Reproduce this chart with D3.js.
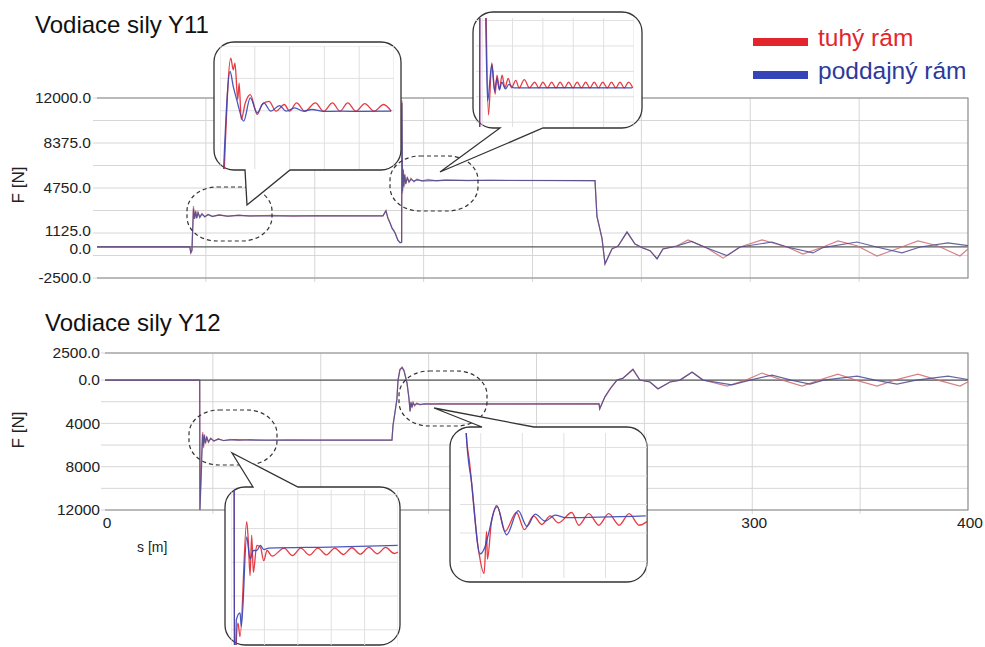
<!doctype html>
<html lang="sk">
<head>
<meta charset="utf-8">
<title>Vodiace sily</title>
<script src="https://d3js.org/d3.v7.min.js"></script>
<style>
  body { margin: 0; background: #fff; }
  svg { font-family: "Liberation Sans", Arial, sans-serif; }
  .grid { stroke: #d6d6d6; stroke-width: 1; }
  .frame { stroke: #8a8a8a; stroke-width: 1.2; fill: none; }
  .zero { stroke: #5a5a5a; stroke-width: 1.2; }
  .tick { font-size: 15.5px; fill: #222; }
  .title { font-size: 24px; fill: #111; }
  .bubble { fill: #fff; stroke: #333; stroke-width: 1.3; }
  .ring { fill: none; stroke: #333; stroke-width: 1.2; stroke-dasharray: 4 3; }
</style>
</head>
<body>
<div id="chart"></div>
<script>
// ---- data: [s (m), F (N)] ----
var series = ["tuhý rám", "poddajný rám"];

var y11Tuhy = [[0,0],[42.6,0],[43.1,-500],[43.6,-320],[44.3,3300],[44.8,2300],[45.3,2950],[45.8,2350],[46.4,2800],[47.2,2400],[48.2,2700],[49.5,2420],[51,2640],[53,2450],[56,2600],[60,2470],[65,2570],[70,2490],[80,2550],[90,2490],[100,2530],[131.3,2500],[132.7,2950],[133.6,2350],[134.5,2000],[135.5,1550],[136.3,1350],[136.9,1140],[138.2,570],[139.2,350],[139.9,400],[140.05,11800],[140.3,4300],[140.6,6300],[140.9,4800],[141.3,5900],[141.8,5050],[142.5,5650],[143.3,5200],[144.2,5550],[145.5,5250],[147,5480],[149,5300],[152,5440],[156,5330],[160,5400],[170,5340],[180,5380],[228.7,5350],[229.6,2500],[231.9,730],[233.3,-1380],[236.5,-160],[239.3,80],[243.4,1220],[247.1,240],[250.7,-80],[254,-300],[257.2,-970],[259.9,-160],[266.3,80],[271.4,570],[280.1,-80],[287.5,-900],[295.3,0],[305.4,570],[316.9,0],[324.2,-570],[333.4,0],[340.3,490],[349,100],[358.2,-730],[368,-100],[377,490],[386,100],[396.3,-730],[400,-160]];
var y11Poddajny = [[0,0],[42.6,0],[43.1,-450],[43.6,-250],[44.3,3100],[44.8,2250],[45.3,2850],[45.8,2300],[46.4,2750],[47.2,2380],[48.2,2650],[49.5,2440],[51,2600],[53,2460],[56,2570],[60,2480],[65,2540],[70,2500],[131.3,2500],[132.7,2900],[133.6,2300],[134.5,1950],[135.5,1500],[136.3,1300],[136.9,1100],[138.2,520],[139.2,330],[139.9,380],[140.05,11600],[140.3,4500],[140.6,6200],[140.9,4900],[141.3,5800],[141.8,5100],[142.5,5550],[143.3,5250],[144.2,5450],[145.5,5300],[147,5400],[150,5330],[160,5360],[228.7,5350],[229.6,2450],[231.9,700],[233.3,-1350],[236.5,-150],[239.3,80],[243.4,1200],[247.1,230],[250.7,-80],[254,-300],[257.2,-950],[259.9,-160],[266.3,80],[273,450],[280.1,-80],[289.3,-700],[295.3,0],[310,400],[316.9,0],[328.8,-480],[333.4,-50],[349,400],[358,0],[369.7,-480],[378,0],[390.8,330],[400,100]];

var y12Tuhy = [[0,0],[43.9,0],[44.0,-12000],[44.5,-8000],[45.3,-4800],[45.7,-6300],[46.1,-5000],[46.6,-5900],[47.2,-5200],[48,-5750],[49,-5350],[50.5,-5650],[52.5,-5420],[55,-5600],[58,-5470],[62,-5580],[67,-5500],[75,-5560],[85,-5520],[100,-5550],[133,-5550],[133.5,-4150],[135.3,-1750],[135.8,0],[136.7,1000],[137.7,1200],[138.6,900],[140,-280],[140.9,-1750],[141.4,-2950],[141.8,-2000],[142.3,-2600],[142.8,-2050],[143.5,-2400],[144.5,-2130],[146,-2300],[148,-2170],[151,-2250],[155,-2190],[160,-2230],[229,-2200],[229.3,-2680],[231.7,-1570],[234.1,-830],[237.3,0],[240.1,180],[244.7,1000],[247.9,0],[252.6,-180],[256.3,-830],[261.9,-180],[266.5,0],[272.1,740],[277.2,0],[288.3,-550],[297,0],[304.5,650],[314,0],[323.1,-550],[331,0],[339.7,550],[348,0],[357.8,-550],[366,0],[376.8,550],[386,0],[396.3,-550],[400,-150]];
var y12Poddajny = [[0,0],[43.9,0],[44.0,-12000],[44.6,-9000],[45.2,-5000],[45.6,-6100],[46.0,-5100],[46.5,-5800],[47.1,-5300],[47.9,-5700],[49,-5400],[50.5,-5620],[52.5,-5450],[55,-5580],[60,-5500],[70,-5550],[133,-5550],[133.5,-4200],[135.3,-1800],[135.8,-50],[136.7,950],[137.7,1150],[138.6,850],[140,-300],[140.9,-1700],[141.4,-2850],[141.8,-2050],[142.3,-2500],[142.8,-2100],[143.5,-2300],[144.5,-2170],[146,-2250],[150,-2200],[229,-2200],[229.3,-2650],[231.7,-1550],[234.1,-800],[237.3,0],[240.1,170],[244.7,980],[247.9,0],[252.6,-180],[256.3,-800],[261.9,-180],[266.5,0],[272.1,720],[277.2,0],[290.6,-450],[299,0],[309.2,460],[318,0],[326.8,-370],[333,0],[348.6,370],[357,0],[367.1,-370],[376,0],[390.7,370],[400,50]];

// zoomed details shown in the callouts
var t1Tuhy = [[43.12,1550],[43.31,3311],[43.38,3132],[43.43,3235],[43.51,2672],[43.55,2928],[43.61,2366],[43.73,2626],[43.87,2749],[44.07,2443],[44.21,2596],[44.41,2646],[44.61,2493],[44.85,2596],[45.0,2493],[45.2,2622],[45.44,2493],[45.74,2622],[45.98,2493],[46.23,2622],[46.45,2493],[46.67,2622],[46.91,2493],[47.16,2611],[47.43,2493],[47.7,2596],[47.92,2493]];
var t1Poddajny = [[43.1,1550],[43.29,3106],[43.38,2876],[43.48,2672],[43.68,2340],[43.87,2698],[44.07,2469],[44.26,2622],[44.46,2493],[44.71,2580],[44.9,2493],[45.15,2545],[45.39,2493],[45.64,2519],[45.98,2489],[46.47,2493],[47.06,2489],[47.92,2493]];

var t2Tuhy = [[139.92,3000],[139.93,11800],[140.06,11800],[140.21,4288],[140.32,6330],[140.43,5105],[140.49,5852],[140.57,5309],[140.66,5852],[140.75,5350],[140.86,5718],[140.97,5350],[141.11,5648],[141.22,5350],[141.39,5677],[141.56,5350],[141.73,5580],[141.87,5350],[142.0,5580],[142.15,5350],[142.29,5580],[142.43,5350],[142.57,5580],[142.71,5350],[142.85,5580],[142.99,5350],[143.13,5580],[143.27,5350],[143.41,5580],[143.55,5350],[143.69,5580],[143.83,5350],[143.97,5580],[144.12,5350],[144.26,5580],[144.4,5350],[144.54,5580],[144.68,5350],[144.82,5580],[144.96,5350]];
var t2Poddajny = [[139.92,3000],[139.93,11600],[140.06,11600],[140.18,4831],[140.32,6261],[140.41,5240],[140.49,5718],[140.57,5268],[140.65,5579],[140.77,5309],[140.88,5485],[141.05,5350],[142.5,5355],[144.94,5350]];

var b1Tuhy = [[44.09,0],[44.11,-12000],[44.16,-8301],[44.21,-7800],[44.27,-8202],[44.47,-4800],[44.52,-5400],[44.57,-6402],[44.62,-5202],[44.67,-6300],[44.77,-5502],[44.88,-5550],[44.98,-5952],[45.08,-5652],[45.23,-5820],[45.59,-5580],[45.84,-5800],[46.09,-5580],[46.35,-5790],[46.6,-5580],[46.86,-5780],[47.11,-5580],[47.36,-5770],[47.62,-5570],[47.87,-5760],[48.13,-5560],[48.38,-5750],[48.63,-5560],[48.89,-5740],[49.0,-5700]];
var b1Poddajny = [[44.09,0],[44.11,-12000],[44.16,-7701],[44.27,-7500],[44.31,-7902],[44.47,-5250],[44.57,-5901],[44.67,-5652],[44.77,-5652],[44.88,-5502],[44.98,-5622],[45.13,-5580],[46.96,-5550],[48.99,-5502]];

var b2Tuhy = [[140.6,500],[140.65,-745],[140.73,-1260],[140.94,-2776],[141.08,-3213],[141.14,-2473],[141.16,-2958],[141.26,-2291],[141.4,-2036],[141.58,-2473],[141.86,-2140],[142.05,-2442],[142.27,-2200],[142.47,-2351],[142.67,-2200],[142.87,-2322],[143.19,-2140],[143.36,-2364],[143.6,-2160],[143.84,-2364],[144.08,-2160],[144.33,-2364],[144.57,-2160],[144.81,-2364],[145.0,-2300]];
var b2Poddajny = [[140.6,500],[140.65,-745],[140.69,-1140],[140.77,-1564],[140.98,-2867],[141.1,-2745],[141.18,-2533],[141.38,-2018],[141.62,-2533],[141.9,-2109],[142.11,-2382],[142.31,-2169],[142.55,-2291],[142.79,-2187],[143.04,-2231],[144.97,-2200]];

// axis ticks
var xTicks = [0, 100, 200, 300, 400];
var xGrid = [50, 100, 150, 200, 250, 300, 350];
var y11Ticks = [12000, 8375, 4750, 1125, 0, -2500];
var y11TickLabels = ["12000.0", "8375.0", "4750.0", "1125.0", "0.0", "-2500.0"];
var y11Grid = [12000, 10187.5, 8375, 6562.5, 4750, 2937.5, 1125, -687.5, -2500];
var y12Ticks = [2500, 0, -4000, -8000, -12000];
var y12TickLabels = ["2500.0", "0.0", "4000", "8000", "12000"];
var y12Grid = [2500, 0, -2000, -4000, -6000, -8000, -10000, -12000];

var mainColors = ["#cf6a72", "#4a4a90"];
var insetColors = ["#e3262d", "#3545b8"];

var W = 985, H = 647;
var svg = d3.select("#chart").append("svg").attr("width", W).attr("height", H);

var panels = [
  { title: "Vodiace sily Y11", tx: 35, ty: 33, lines: [y11Tuhy, y11Poddajny],
    x: d3.scaleLinear().domain([0, 400]).range([97, 968]),
    y: d3.scaleLinear().domain([-2500, 12000]).range([278, 98]),
    ticks: y11Ticks, labels: y11TickLabels, grid: y11Grid, labelRight: 91, fx: 18, fy: 185, xLabels: false },
  { title: "Vodiace sily Y12", tx: 45, ty: 331, lines: [y12Tuhy, y12Poddajny],
    x: d3.scaleLinear().domain([0, 400]).range([105, 968]),
    y: d3.scaleLinear().domain([2500, -12000]).range([353, 510]),
    ticks: y12Ticks, labels: y12TickLabels, grid: y12Grid, labelRight: 100, fx: 18, fy: 430, xLabels: true }
];

panels.forEach(function(p, pi) {
  var g = svg.append("g");
  var x0 = p.x.range()[0], x1 = p.x.range()[1];
  var yTop = d3.min(p.y.range()), yBot = d3.max(p.y.range());

  g.selectAll(".hg").data(p.grid).enter().append("line").attr("class", "grid")
    .attr("x1", x0 - 4).attr("x2", x1).attr("y1", p.y).attr("y2", p.y);
  g.selectAll(".vg").data(xGrid).enter().append("line").attr("class", "grid")
    .attr("x1", p.x).attr("x2", p.x).attr("y1", yTop).attr("y2", yBot + 4);

  g.append("line").attr("class", "zero").attr("x1", x0).attr("x2", x1)
    .attr("y1", p.y(0)).attr("y2", p.y(0));

  g.append("path").attr("class", "frame")
    .attr("d", "M" + x0 + "," + yTop + "H" + x1 + "V" + yBot + "H" + x0);

  var clipId = "clip" + pi;
  svg.append("clipPath").attr("id", clipId).append("rect")
    .attr("x", x0).attr("y", yTop - 2).attr("width", x1 - x0).attr("height", yBot - yTop + 4);

  var line = d3.line().x(function(d) { return p.x(d[0]); }).y(function(d) { return p.y(d[1]); });
  g.append("g").attr("clip-path", "url(#" + clipId + ")")
    .selectAll("path").data(p.lines).enter().append("path")
    .attr("d", line).attr("fill", "none")
    .attr("stroke", function(d, i) { return mainColors[i]; })
    .attr("stroke-width", 1.2).attr("stroke-opacity", 0.85);

  // the 1125.0 / 0.0 pair sits very close, nudge them apart a little
  g.selectAll(".yl").data(p.ticks).enter().append("text").attr("class", "tick")
    .attr("x", p.labelRight)
    .attr("y", function(d) { return p.y(d) + (pi === 0 && d === 1125 ? -2 : pi === 0 && d === 0 ? 2 : 0); })
    .attr("dy", "0.35em").attr("text-anchor", "end")
    .text(function(d, i) { return p.labels[i]; });

  if (p.xLabels) {
    g.selectAll(".xl").data(xTicks).enter().append("text").attr("class", "tick")
      .attr("font-size", 16)
      .attr("x", function(d) { return p.x(d) + 2; }).attr("y", 528).attr("text-anchor", "middle")
      .text(function(d) { return d; });
    g.append("text").attr("x", 137).attr("y", 552).attr("font-size", 14).attr("fill", "#222").text("s [m]");
  }

  g.append("text").attr("class", "title").attr("x", p.tx).attr("y", p.ty).text(p.title);
  g.append("text").attr("transform", "translate(" + (p.fx + 6) + "," + p.fy + ") rotate(-90)")
    .attr("text-anchor", "middle").attr("font-size", 17).attr("fill", "#222").text("F [N]");
});

// dashed rings marking zoomed regions
var rings = [[187, 187, 85, 54], [390, 156, 88, 55], [189, 410, 88, 55], [399, 371, 88, 55]];
svg.selectAll(".ring").data(rings).enter().append("rect").attr("class", "ring")
  .attr("x", function(d) { return d[0]; }).attr("y", function(d) { return d[1]; })
  .attr("width", function(d) { return d[2]; }).attr("height", function(d) { return d[3]; })
  .attr("rx", 30).attr("ry", 24);

// callouts
var callouts = [
  { box: [214, 42, 187, 128], side: "bottom", tail: [[245, 170], [247, 205], [290, 170]],
    plot: [220, 46, 394, 169], xDom: [43, 48], yDom: [1600, 3500], lines: [t1Tuhy, t1Poddajny] },
  { box: [473, 12, 169, 116], side: "bottom", tail: [[500, 128], [440, 172], [543, 128]],
    plot: [476, 18, 634, 127], xDom: [139.8, 145], yDom: [3810, 8100], lines: [t2Tuhy, t2Poddajny] },
  { box: [225, 487, 175, 158], side: "top", tail: [[253, 487], [232, 453], [298, 487]],
    plot: [231, 490, 398, 645], xDom: [44, 49], yDom: [-8450, -3860], lines: [b1Tuhy, b1Poddajny] },
  { box: [450, 427, 197, 155], side: "top", tail: [[482, 427], [434, 408], [534, 427]],
    plot: [460, 433, 647, 578], xDom: [140.5, 145], yDom: [-3290, -745], lines: [b2Tuhy, b2Poddajny] }
];

function bubblePath(c) {
  var x = c.box[0], y = c.box[1], w = c.box[2], h = c.box[3], r = 20, t = c.tail;
  var p = d3.path();
  p.moveTo(x + r, y);
  if (c.side === "top") {
    p.lineTo(t[0][0], y); p.lineTo(t[1][0], t[1][1]); p.lineTo(t[2][0], y);
  }
  p.lineTo(x + w - r, y);
  p.arcTo(x + w, y, x + w, y + r, r);
  p.lineTo(x + w, y + h - r);
  p.arcTo(x + w, y + h, x + w - r, y + h, r);
  if (c.side === "bottom") {
    p.lineTo(t[2][0], y + h); p.lineTo(t[1][0], t[1][1]); p.lineTo(t[0][0], y + h);
  }
  p.lineTo(x + r, y + h);
  p.arcTo(x, y + h, x, y + h - r, r);
  p.lineTo(x, y + r);
  p.arcTo(x, y, x + r, y, r);
  p.closePath();
  return p.toString();
}

callouts.forEach(function(c, ci) {
  var g = svg.append("g");
  g.append("path").attr("class", "bubble").attr("d", bubblePath(c));

  var xs = d3.scaleLinear().domain(c.xDom).range([c.plot[0], c.plot[2]]);
  var ys = d3.scaleLinear().domain(c.yDom).range([c.plot[3], c.plot[1]]);
  var id = "iclip" + ci;
  svg.append("clipPath").attr("id", id).append("rect")
    .attr("x", c.plot[0]).attr("y", c.plot[1])
    .attr("width", c.plot[2] - c.plot[0]).attr("height", c.plot[3] - c.plot[1]);

  var inner = g.append("g").attr("clip-path", "url(#" + id + ")");
  inner.selectAll(".ivg").data(xs.ticks(5)).enter().append("line")
    .attr("stroke", "#e0e0e0").attr("x1", xs).attr("x2", xs)
    .attr("y1", c.plot[1]).attr("y2", c.plot[3]);
  inner.selectAll(".ihg").data(ys.ticks(6)).enter().append("line")
    .attr("stroke", "#e0e0e0").attr("y1", ys).attr("y2", ys)
    .attr("x1", c.plot[0]).attr("x2", c.plot[2]);

  var line = d3.line().curve(d3.curveMonotoneX)
    .x(function(d) { return xs(d[0]); }).y(function(d) { return ys(d[1]); });
  inner.selectAll(".il").data(c.lines).enter().append("path")
    .attr("d", line).attr("fill", "none")
    .attr("stroke", function(d, i) { return insetColors[i]; })
    .attr("stroke-width", 1.3).attr("stroke-opacity", 0.9);
});

// legend
var legend = svg.append("g").attr("transform", "translate(753,38)");
series.forEach(function(name, i) {
  legend.append("rect").attr("x", 0).attr("y", i * 33).attr("width", 55).attr("height", 8)
    .attr("fill", insetColors[i]);
  legend.append("text").attr("x", 65).attr("y", i * 33 + 8).attr("font-size", 24.5)
    .attr("fill", i === 0 ? "#e3262d" : "#2c3a9c").text(name);
});
</script>
</body>
</html>
